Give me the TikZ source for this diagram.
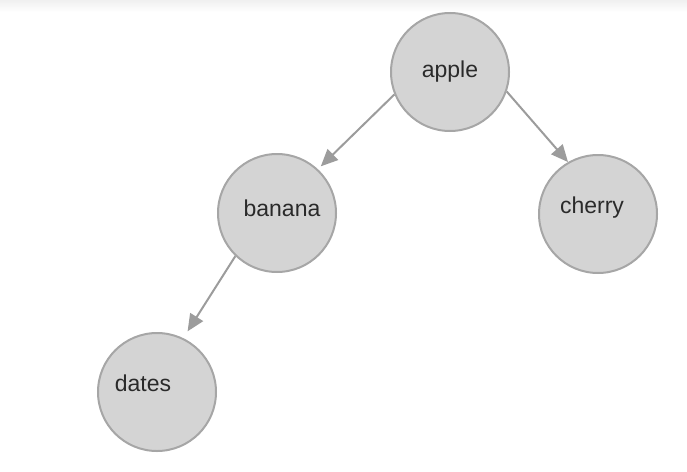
\documentclass[tikz,border=0pt]{standalone}
\usepackage{fontspec}
\setmainfont{Liberation Sans}
\usetikzlibrary{arrows.meta}
\definecolor{fruitfill}{HTML}{D4D4D4}
\definecolor{fruitline}{HTML}{A6A6A6}
\definecolor{arrowgray}{HTML}{9C9C9C}
\definecolor{fruittext}{HTML}{2A2A2A}
\tikzset{fruitfont/.style={text=fruittext, font=\fontsize{23}{27}\selectfont}}
\tikzset{fruit/.style={circle, draw=fruitline, line width=2pt, fill=fruitfill, minimum size=118pt, inner sep=0pt, fruitfont}}
\tikzset{arr/.style={draw=arrowgray, line width=2pt, -{Triangle[length=17pt,width=15pt]}}}

\begin{document}
\begin{tikzpicture}[x=1pt,y=-1pt, every label/.style={fruitfont}]
    \useasboundingbox (0,0) rectangle (687,471);
    \fill[top color=black!6, bottom color=white] (0,0) rectangle (687,12);
    % the four fruits
    \node[fruit] (apple) at (450,72) {apple};
    \node[fruit, label={[xshift=5pt,yshift=5pt]center:banana}] (banana) at (277,213) {};
    \node[fruit, label={[xshift=-6pt,yshift=6pt]center:cherry}] (cherry) at (598,214) {};
    \node[fruit, label={[xshift=-14pt,yshift=9pt]center:dates}] (dates) at (157,392) {};
    % edges
    \draw[arr, shorten >=4pt] (apple.202) -- (banana.47);
    \draw[arr] (apple.341) -- (cherry.120);
    \draw[arr, shorten >=8pt] (banana.226) -- (dates.64);
\end{tikzpicture}
\end{document}
